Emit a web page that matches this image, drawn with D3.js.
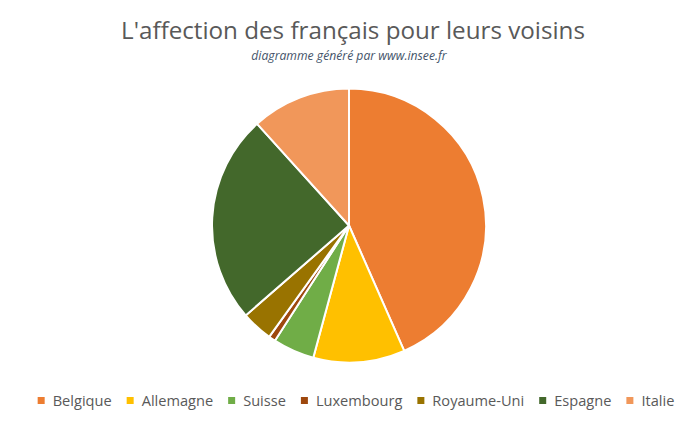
<!DOCTYPE html>
<html>
<head>
<meta charset="utf-8">
<script src="https://cdn.jsdelivr.net/npm/d3@7"></script>
<style>
  body { margin: 0; background: #fff; }
  svg { display: block; }
</style>
</head>
<body>
<svg id="chart"></svg>
<script>
const countries = ["Belgique", "Allemagne", "Suisse", "Luxembourg", "Royaume-Uni", "Espagne", "Italie"];
const shares = [43.4, 10.8, 4.9, 0.8, 3.7, 24.7, 11.7];
const colors = ["#ED7D31", "#FFC000", "#70AD47", "#9E480E", "#997300", "#43682B", "#F1975A"];

const w = 693, h = 425;
const cx = 349, cy = 225.5, r = 137;

const svg = d3.select("#chart")
  .attr("width", w)
  .attr("height", h);

svg.append("text")
  .attr("x", 353)
  .attr("y", 39)
  .attr("text-anchor", "middle")
  .attr("font-family", "Open Sans")
  .attr("font-size", "24.2px")
  .attr("fill", "#595959")
  .text("L'affection des français pour leurs voisins");

svg.append("text")
  .attr("x", 349)
  .attr("y", 59.5)
  .attr("text-anchor", "middle")
  .attr("font-family", "Open Sans")
  .attr("font-style", "italic")
  .attr("font-size", "12.2px")
  .attr("fill", "#44546A")
  .text("diagramme généré par www.insee.fr");

const color = d3.scaleOrdinal().domain(countries).range(colors);

const pie = d3.pie()
  .value(d => d.v)
  .sort(null);

const arc = d3.arc()
  .innerRadius(0)
  .outerRadius(r);

const data = countries.map((c, i) => ({ name: c, v: shares[i] }));

svg.append("g")
  .attr("transform", `translate(${cx},${cy})`)
  .selectAll("path")
  .data(pie(data))
  .enter()
  .append("path")
  .attr("d", arc)
  .attr("fill", d => color(d.data.name))
  .attr("stroke", "#fff")
  .attr("stroke-width", 2)
  .attr("stroke-linejoin", "round");

// legend, laid out from measured text widths
const legend = svg.append("g");
const items = legend.selectAll("g")
  .data(countries)
  .enter()
  .append("g");

items.append("rect")
  .attr("width", 7)
  .attr("height", 7)
  .attr("y", 397)
  .attr("fill", d => color(d));

items.append("text")
  .attr("x", 15)
  .attr("y", 406)
  .attr("font-family", "Open Sans")
  .attr("font-size", "14.6px")
  .attr("fill", "#595959")
  .text(d => d);

const widths = [];
items.select("text").each(function() { widths.push(this.getComputedTextLength() + 15); });
const gap = 15;
const total = d3.sum(widths) + gap * (widths.length - 1);
let x = 356 - total / 2;
items.each(function(d, i) {
  d3.select(this).attr("transform", `translate(${x},0)`);
  x += widths[i] + gap;
});
</script>
</body>
</html>
